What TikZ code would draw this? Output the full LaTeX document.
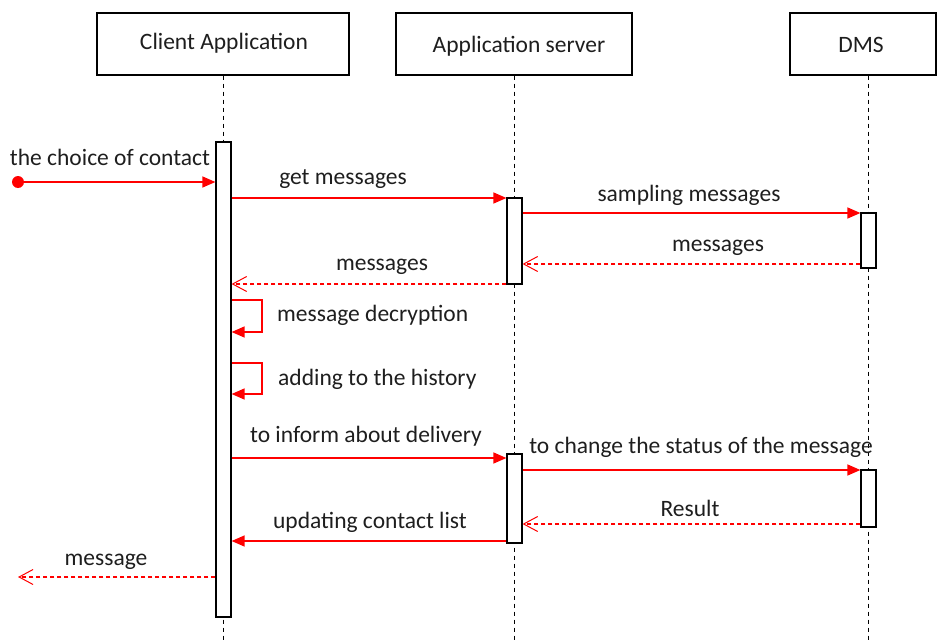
\documentclass[tikz,border=0pt]{standalone}
\usepackage{fontspec}
\setmainfont{Carlito}
\usetikzlibrary{arrows.meta}
\definecolor{msgred}{RGB}{255,0,0}
\definecolor{txt}{RGB}{30,30,30}
\begin{document}
\begin{tikzpicture}[x=1pt,y=-1pt,
  every node/.style={font=\fontsize{23.5}{28}\selectfont, text=txt},
  headbox/.style={draw=black, line width=1.2pt, fill=white, inner sep=0pt},
  actbox/.style={draw=black, line width=1.2pt, fill=white, inner sep=0pt, minimum width=15pt},
  lifeline/.style={draw=black, line width=0.9pt, dash pattern=on 4pt off 4pt},
  callmsg/.style={draw=msgred, line width=1.3pt, -{Triangle[length=13pt,width=11pt]}},
  retmsg/.style={draw=msgred, line width=1.2pt, dash pattern=on 4pt off 3pt, -{Straight Barb[length=14pt,width=15pt,line width=1pt]}},
  lbl/.style={inner sep=1pt}
]
\useasboundingbox (0,0) rectangle (937,642);
% heads
\node[headbox, minimum width=252pt, minimum height=62pt] (ca) at (223,44) {};
\node (catext) at (224,43) {Client Application};
\node[headbox, minimum width=236pt, minimum height=62pt] (as) at (514,44) {};
\node (astext) at (519,46) {Application server};
\node[headbox, minimum width=146pt, minimum height=62pt] (dms) at (863,44) {};
\node (dmstext) at (861,45) {DMS};
% lifelines
\coordinate (caend) at (223,642);
\coordinate (asend) at (514,642);
\coordinate (dmsend) at (868,642);
\draw[lifeline] (ca.south -| caend) -- (caend);
\draw[lifeline] (as.south -| asend) -- (asend);
\draw[lifeline] (dms.south -| dmsend) -- (dmsend);
% activations
\node[actbox, minimum height=475pt] (cact) at (223.5,379.5) {};
\node[actbox, minimum height=86pt] (sact1) at (514.5,241) {};
\node[actbox, minimum height=55pt] (dact1) at (868.5,240.5) {};
\node[actbox, minimum height=89pt] (sact2) at (514.5,498.5) {};
\node[actbox, minimum height=57pt] (dact2) at (868.5,498.5) {};
% found message
\coordinate (start) at (18,182);
\fill[msgred] (start) circle (6pt);
\draw[callmsg] (start) -- (cact.west |- start);
\node[lbl] (l0) at (110,157) {the choice of contact};
% get messages
\draw[callmsg] (cact.east |- 0,198) -- (sact1.west |- 0,198);
\node[lbl] (l1) at (343,179) {get messages};
% sampling messages
\draw[callmsg] (sact1.east |- 0,213) -- (dact1.west |- 0,213);
\node[lbl] (l2) at (689,195) {sampling messages};
% messages return from DMS
\draw[retmsg] (dact1.west |- 0,264) -- (sact1.east |- 0,264);
\node[lbl] (l3) at (718,248) {messages};
% messages return to client
\draw[retmsg] (sact1.west |- 0,284) -- (cact.east |- 0,284);
\node[lbl] (l4) at (382,267) {messages};
% self message decryption
\coordinate (s1a) at (262,300);
\coordinate (s1b) at (262,332);
\draw[callmsg] (cact.east |- s1a) -- (s1a) -- (s1b) -- (cact.east |- s1b);
\node[lbl, anchor=west] (l5) at (276,315) {message decryption};
% self adding to history
\coordinate (s2a) at (262,363);
\coordinate (s2b) at (262,394);
\draw[callmsg] (cact.east |- s2a) -- (s2a) -- (s2b) -- (cact.east |- s2b);
\node[lbl, anchor=west] (l6) at (277,379) {adding to the history};
% inform about delivery
\draw[callmsg] (cact.east |- 0,458) -- (sact2.west |- 0,458);
\node[lbl] (l7) at (366,436) {to inform about delivery};
% change status
\draw[callmsg] (sact2.east |- 0,470) -- (dact2.west |- 0,470);
\node[lbl] (l8) at (701,447) {to change the status of the message};
% Result
\draw[retmsg] (dact2.west |- 0,524) -- (sact2.east |- 0,524);
\node[lbl] (l9) at (690,508) {Result};
% updating contact list
\draw[callmsg] (sact2.west |- 0,541) -- (cact.east |- 0,541);
\node[lbl] (l10) at (370,522) {updating contact list};
% message out
\coordinate (out) at (18,577);
\draw[retmsg] (cact.west |- out) -- (out);
\node[lbl] (l11) at (106,562) {message};
\end{tikzpicture}
\end{document}
